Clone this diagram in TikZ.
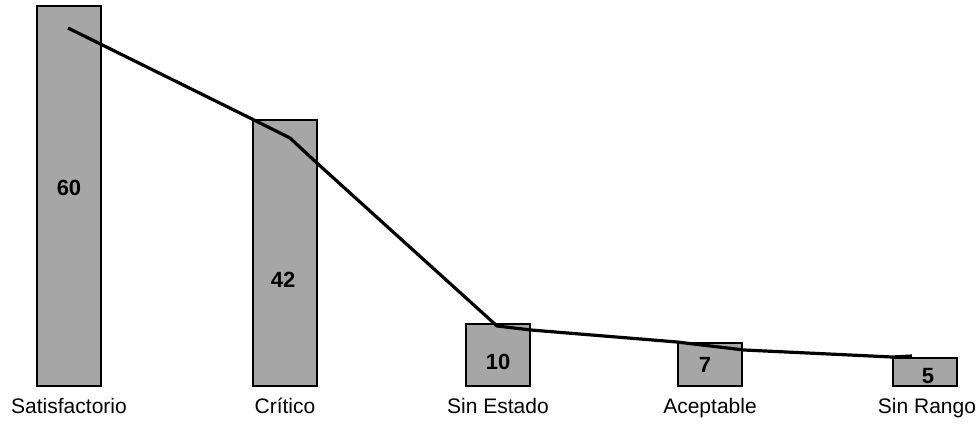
\documentclass[tikz,border=0pt]{standalone}
\usepackage{fontspec}
\setmainfont{Liberation Sans}
\usepackage{tikz}

\begin{document}
\begin{tikzpicture}[x=1pt,y=-1pt,
  bar/.style = {draw=black,line width=2pt,fill=black!35,minimum width=64pt,inner sep=0pt,anchor=south},
  val/.style = {font=\fontsize{22}{26}\selectfont\bfseries,inner sep=0pt},
  lbl/.style = {font=\fontsize{21}{25}\selectfont,inner sep=0pt,anchor=base}]
\useasboundingbox (0,0) rectangle (979,425);

\node[bar,minimum height=380pt] (sat) at (69,387) {};
\node[bar,minimum height=266pt] (crit) at (285,387) {};
\node[bar,minimum height=62pt] (est) at (498,387) {};
\node[bar,minimum height=43pt] (acep) at (710,387) {};
\node[bar,minimum height=28pt] (rango) at (925,387) {};

\node[val] (vsat) at (69,188) {60};
\node[val] (vcrit) at (283,280) {42};
\node[val] (vest) at (498,362) {10};
\node[val] (vacep) at (705,365) {7};
\node[val] (vrango) at (928,376) {5};

\node[lbl] (lsat) at (69,413) {Satisfactorio};
\node[lbl] (lcrit) at (285,413) {Crítico};
\node[lbl] (lest) at (498,413) {Sin Estado};
\node[lbl] (lacep) at (710,413) {Aceptable};
\node[lbl] (lrango) at (927,413) {Sin Rango};

\coordinate (t1) at (68,28);
\coordinate (t2) at (290,138);
\coordinate (t3) at (318,164);
\coordinate (t4) at (497,326);
\coordinate (t5) at (531,330);
\coordinate (t6) at (744,350);
\coordinate (t7) at (912,356);

\draw[line width=3.2pt,line join=round] (t1) -- (crit.north west) -- (t2) -- (t3) -- (t4) -- (t5)
  -- (acep.north west) -- (t6) -- (rango.north west) -- (t7);
\end{tikzpicture}
\end{document}
